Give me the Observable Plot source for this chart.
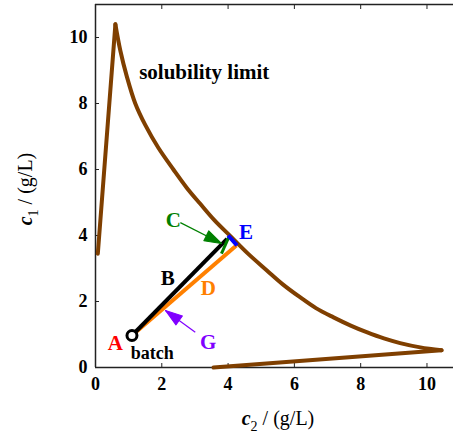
<!DOCTYPE html>
<html><head><meta charset="utf-8">
<script src="https://cdn.jsdelivr.net/npm/d3@7"></script>
<script src="https://cdn.jsdelivr.net/npm/@observablehq/plot@0.6"></script>
<style>body{margin:0;background:#fff} svg{display:block}</style>
</head><body><div id="chart"></div>
<script>
// Solubility limit curve (three pieces)
const riseX = [0.07, 0.60];
const riseY = [3.45, 10.40];
const descX = [0.60, 0.75, 0.95, 1.20, 1.50, 1.90, 2.35, 2.75, 3.16, 3.60, 4.07, 4.60, 5.17, 5.65, 6.17, 6.65, 7.18, 7.70, 8.18, 8.70, 9.19, 9.80, 10.44];
const descY = [10.40, 9.60, 8.80, 8.00, 7.35, 6.65, 6.00, 5.45, 4.96, 4.45, 3.98, 3.45, 2.94, 2.52, 2.13, 1.80, 1.52, 1.27, 1.07, 0.88, 0.74, 0.61, 0.52];
const baseX = [10.44, 3.56];
const baseY = [0.52, 0.00];

// Process segments
const segName  = ["D", "B", "C", "E"];
const segX1    = [1.10, 1.10, 4.02, 4.00];
const segY1    = [0.97, 0.97, 3.95, 4.00];
const segX2    = [4.25, 3.97, 3.80, 4.27];
const segY2    = [3.70, 3.90, 3.45, 3.70];
const segColor = ["#ff8000", "#000000", "#008000", "#0000ff"];
const segWidth = [4, 4, 3, 4];

// batch point
const batchX = [1.10];
const batchY = [0.97];

// annotation arrows
const arrowName  = ["C", "G"];
const arrowX1    = [2.56, 3.01];
const arrowY1    = [4.39, 1.07];
const arrowX2    = [3.80, 2.11];
const arrowY2    = [3.76, 1.73];
const arrowColor = ["#008000", "#8000ff"];

// labels
const labelText  = ["A", "B", "C", "D", "E", "G"];
const labelX     = [0.60, 2.18, 2.35, 3.40, 4.54, 3.40];
const labelY     = [0.72, 2.69, 4.45, 2.39, 4.10, 0.76];
const labelColor = ["#ff0000", "#000000", "#008000", "#ff8000", "#0000ff", "#8000ff"];

const xTicks = [0, 2, 4, 6, 8, 10];
const yTicks = [0, 2, 4, 6, 8, 10];

const FONT = "'Liberation Serif', 'Times New Roman', Times, serif";
const W = 453, H = 441, mL = 95, mR = 0, mT = 4, mB = 74;
const xMax = 10.8, yMax = 11;

const curve = [
  ...riseX.map((x, i) => ({seg: "rise", x, y: riseY[i]})),
  ...descX.map((x, i) => ({seg: "desc", x, y: descY[i]})),
  ...baseX.map((x, i) => ({seg: "base", x, y: baseY[i]}))
];
const segs = segName.map((n, i) => ({n, x1: segX1[i], y1: segY1[i], x2: segX2[i], y2: segY2[i], c: segColor[i], w: segWidth[i]}));
const kx = (W - mL - mR) / xMax, ky = (H - mT - mB) / yMax;
const arrows = arrowName.map((n, i) => ({
  n, x1: arrowX1[i], y1: arrowY1[i], x2: arrowX2[i], y2: arrowY2[i], c: arrowColor[i],
  a: Math.atan2((arrowX2[i] - arrowX1[i]) * kx, (arrowY2[i] - arrowY1[i]) * ky) * 180 / Math.PI
}));
const labels = labelText.map((t, i) => ({t, x: labelX[i], y: labelY[i], c: labelColor[i]}));
const head = {draw(ctx, l, r) { ctx.moveTo(0, -l); ctx.lineTo(-r, 0); ctx.lineTo(r, 0); ctx.closePath(); }};

const svg = Plot.plot({
  width: W, height: H,
  marginLeft: mL, marginRight: mR, marginTop: mT, marginBottom: mB,
  x: {domain: [0, xMax]},
  y: {domain: [0, yMax]},
  style: {fontSize: "17px", color: "#000", background: "#fff"},
  marks: [
    Plot.ruleX([0], {stroke: "#222", strokeWidth: 1.5}),
    Plot.ruleY([0, yMax], {stroke: "#222", strokeWidth: 1.5}),
    Plot.axisX({anchor: "bottom", ticks: xTicks, tickSize: 4, insetBottom: 4, tickFormat: () => "", stroke: "#222", label: null}),
    Plot.axisX({anchor: "top", ticks: xTicks, tickSize: 4, insetTop: 4, tickFormat: () => "", stroke: "#222", label: null}),
    Plot.axisY({anchor: "left", ticks: yTicks, tickSize: 4, insetLeft: 4, tickFormat: () => "", stroke: "#222", label: null}),
    Plot.axisX({anchor: "bottom", ticks: xTicks, tickSize: 0, tickPadding: 10, fontSize: 18, fontWeight: "bold", label: null}),
    Plot.axisY({anchor: "left", ticks: yTicks, tickSize: 0, tickPadding: 8, fontSize: 18, fontWeight: "bold", label: null}),
    Plot.line(curve, {x: "x", y: "y", z: "seg", stroke: "#7f3f00", strokeWidth: 4, curve: "catmull-rom", strokeLinecap: "round", strokeLinejoin: "round"}),
    Plot.link(segs, {x1: "x1", y1: "y1", x2: "x2", y2: "y2", stroke: "c", strokeWidth: "w"}),
    Plot.dot(batchX.map((x, i) => ({x, y: batchY[i]})), {x: "x", y: "y", r: 5, fill: "#fff", stroke: "#000", strokeWidth: 3}),
    Plot.link(arrows, {x1: "x1", y1: "y1", x2: "x2", y2: "y2", stroke: "c", strokeWidth: 1.2}),
    Plot.vector(arrows, {x: "x2", y: "y2", rotate: "a", length: 17, r: 5.5, anchor: "end", shape: head, fill: "c", stroke: "c", strokeWidth: 1}),
    Plot.text(labels, {x: "x", y: "y", text: "t", fill: "c", fontSize: 21, fontWeight: "bold"}),
    Plot.text(["batch"], {x: [1.71], y: [0.42], fontSize: 18, fontWeight: "bold", fill: "#000"}),
    Plot.text(["solubility limit"], {x: [3.28], y: [8.94], fontSize: 21, fontWeight: "bold", fill: "#000"})
  ]
});

// Axis titles with italic variable and subscript
const s = d3.select(svg);
const xl = s.append("text").attr("x", 278).attr("y", 425).attr("text-anchor", "middle")
  .attr("font-size", 20).attr("fill", "#000");
xl.append("tspan").attr("font-style", "italic").attr("font-weight", "bold").text("c");
xl.append("tspan").attr("font-size", 14).attr("dy", 6).text("2");
xl.append("tspan").attr("dy", -6).text(" / (g/L)");

const yl = s.append("text").attr("transform", "translate(32,189) rotate(-90)").attr("text-anchor", "middle")
  .attr("font-size", 20).attr("fill", "#000");
yl.append("tspan").attr("font-style", "italic").attr("font-weight", "bold").text("c");
yl.append("tspan").attr("font-size", 14).attr("dy", 6).text("1");
yl.append("tspan").attr("dy", -6).text(" / (g/L)");

// force the serif family on every text element
s.selectAll("text, tspan").style("font-family", FONT);
svg.style.fontFamily = FONT;

document.getElementById("chart").appendChild(svg);
</script>
</body></html>
